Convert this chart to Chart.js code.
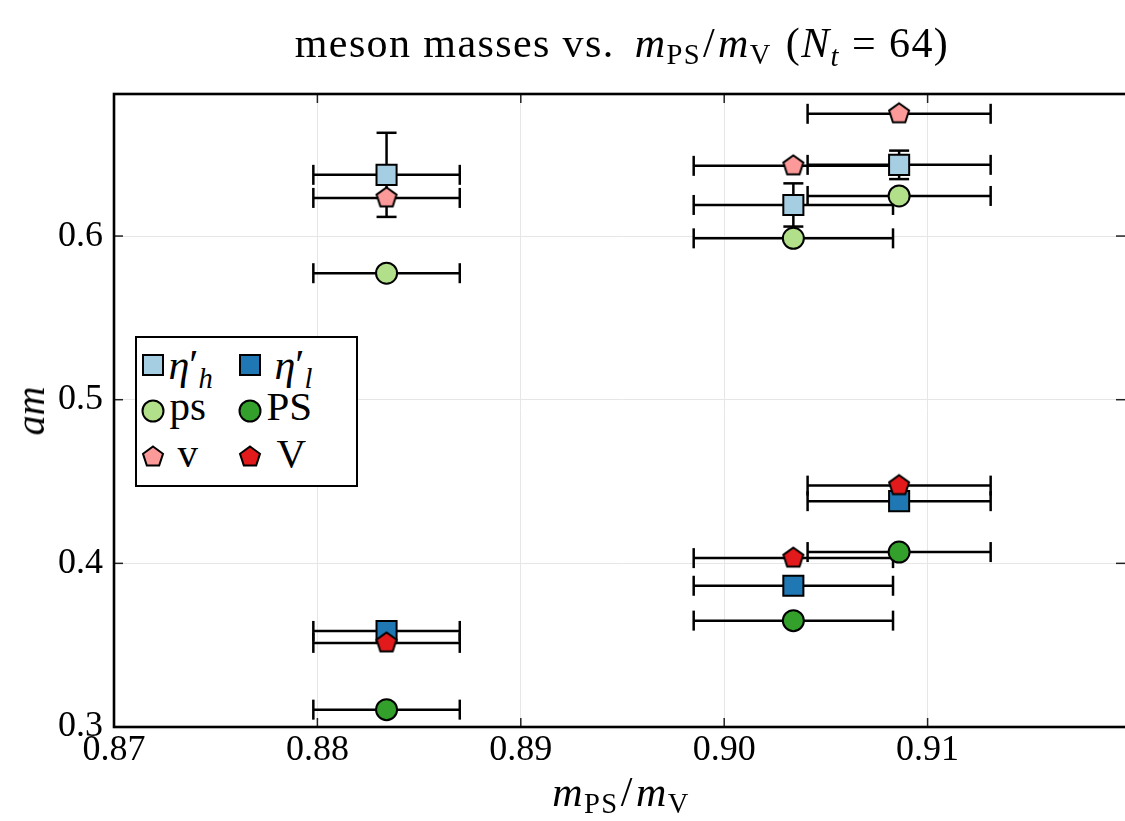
<!DOCTYPE html>
<html>
<head>
<meta charset="utf-8">
<script src="https://cdn.jsdelivr.net/npm/chart.js@4.4.0/dist/chart.umd.min.js"></script>
<style>
html,body{margin:0;padding:0;background:#fff;overflow:hidden;width:1125px;height:821px;}
#wrap{position:relative;width:1125px;height:821px;overflow:hidden;background:#fff;}
#cw{position:absolute;left:0;top:0;width:1140px;height:821px;}
.t{position:absolute;font-family:'Liberation Serif','Times New Roman',serif;color:#000;white-space:nowrap;}
.t i{font-style:italic;}
.s{font-size:0.68em;vertical-align:-0.25em;font-style:normal;}
.si{font-size:0.68em;vertical-align:-0.3em;font-style:italic;}
#legend{position:absolute;left:135px;top:336px;width:223px;height:151px;box-sizing:border-box;border:2.5px solid #000;background:#fff;}
.mk{position:absolute;}
</style>
</head>
<body>
<div id="wrap">
<div id="cw"><canvas id="c"></canvas></div>
<div id="legend"></div>
</div>
<script>
// ---- data ----
const xTicks = [0.87, 0.88, 0.89, 0.90, 0.91];
const yTicks = [0.3, 0.4, 0.5, 0.6];
const xMin = 0.87, xMax = 0.92, yMin = 0.3, yMax = 0.6868;

const groupX    = [0.8834, 0.9034, 0.9086];
const groupXErr = [0.0036, 0.0049, 0.0045];

const etaH    = [0.6374, 0.6190, 0.6435];
const etaHErr = [0.0257, 0.0132, 0.0087];
const etaL    = [0.3587, 0.3863, 0.4380];
const psM     = [0.5773, 0.5986, 0.6245];
const PSM     = [0.3106, 0.3650, 0.4069];
const vM      = [0.6233, 0.6429, 0.6747];
const VM      = [0.3514, 0.4032, 0.4475];

const colors = {
  etaH:'#a6cee3', etaL:'#1f78b4', ps:'#b2df8a', PS:'#33a02c', v:'#fb9a99', V:'#e31a1c'
};

// ---- helpers ----
function pts(ys){ return ys.map((y,i)=>({x:groupX[i], y:y})); }
function pentagon(fill){
  const c = document.createElement('canvas');
  c.width = 26; c.height = 26;
  const g = c.getContext('2d');
  const R = 10.5, cx = 13, cy = 13;
  g.beginPath();
  for(let k=0;k<5;k++){
    const a = -Math.PI/2 + k*2*Math.PI/5;
    const px = cx + R*Math.cos(a), py = cy + R*Math.sin(a);
    if(k===0) g.moveTo(px,py); else g.lineTo(px,py);
  }
  g.closePath();
  g.fillStyle = fill; g.fill();
  g.lineWidth = 2; g.strokeStyle = '#000'; g.lineJoin='miter'; g.stroke();
  return c;
}

const FONT = "'Liberation Serif','Times New Roman',serif";

const datasets = [
  {label:'V', data:pts(VM), xErr:groupXErr, pointStyle:pentagon(colors.V), pointRadius:10.5},
  {label:'v', data:pts(vM), xErr:groupXErr, pointStyle:pentagon(colors.v), pointRadius:10.5},
  {label:'PS', data:pts(PSM), xErr:groupXErr, pointStyle:'circle', pointRadius:10.5, backgroundColor:colors.PS},
  {label:'ps', data:pts(psM), xErr:groupXErr, pointStyle:'circle', pointRadius:10.5, backgroundColor:colors.ps},
  {label:"η'_l", data:pts(etaL), xErr:groupXErr, pointStyle:'rect', pointRadius:14.2, backgroundColor:colors.etaL},
  {label:"η'_h", data:pts(etaH), xErr:groupXErr, yErr:etaHErr, pointStyle:'rect', pointRadius:14.2, backgroundColor:colors.etaH},
].map(d=>Object.assign({borderColor:'#000', borderWidth:2, pointHoverRadius:d.pointRadius, showLine:false}, d));

const errPlugin = {
  id:'errbars',
  beforeDatasetsDraw(chart){
    const {ctx, chartArea:a, scales:{x, y}} = chart;
    const line = (x1,y1,x2,y2)=>{ctx.beginPath();ctx.moveTo(x1,y1);ctx.lineTo(x2,y2);ctx.stroke();};
    ctx.save();
    ctx.strokeStyle = '#222'; ctx.lineWidth = 1.5;
    xTicks.forEach(v=>{const p=x.getPixelForValue(v); line(p,a.bottom,p,a.bottom-9); line(p,a.top,p,a.top+9);});
    yTicks.forEach(v=>{const p=y.getPixelForValue(v); line(a.left,p,a.left+9,p); line(1125,p,1125-9,p);});
    ctx.beginPath(); ctx.rect(a.left, a.top, a.right-a.left, a.bottom-a.top); ctx.clip();
    ctx.strokeStyle = '#000'; ctx.lineWidth = 2.5; ctx.lineCap='butt';
    const cap = 10;
    chart.data.datasets.forEach((ds)=>{
      ds.data.forEach((p,j)=>{
        const cx = x.getPixelForValue(p.x), cy = y.getPixelForValue(p.y);
        const xe = ds.xErr ? ds.xErr[j] : 0, ye = ds.yErr ? ds.yErr[j] : 0;
        if(xe){
          const l = x.getPixelForValue(p.x - xe), r = x.getPixelForValue(p.x + xe);
          line(l,cy,r,cy); line(l,cy-cap,l,cy+cap); line(r,cy-cap,r,cy+cap);
        }
        if(ye){
          const t = y.getPixelForValue(p.y + ye), b = y.getPixelForValue(p.y - ye);
          line(cx,t,cx,b); line(cx-cap,t,cx+cap,t); line(cx-cap,b,cx+cap,b);
        }
      });
    });
    ctx.restore();
  },
  afterDatasetsDraw(chart){
    const {ctx, chartArea:a} = chart;
    ctx.save();
    ctx.strokeStyle = '#000'; ctx.lineWidth = 2.6;
    ctx.strokeRect(a.left, a.top, a.right-a.left, a.bottom-a.top);
    ctx.restore();
  }
};

const chart = new Chart(document.getElementById('c'), {
  type:'scatter',
  data:{datasets},
  plugins:[errPlugin],
  options:{
    responsive:true, maintainAspectRatio:false, animation:false, devicePixelRatio:1,
    layout:{autoPadding:false, padding:{top:94, right:9, left:0, bottom:0}},
    plugins:{legend:{display:false}, title:{display:false}, tooltip:{enabled:false}},
    scales:{
      x:{
        type:'linear', min:xMin, max:xMax,
        afterBuildTicks:(ax)=>{ ax.ticks = xTicks.map(v=>({value:v})); },
        afterFit:(s)=>{ s.height = 94; s.paddingLeft = 0; s.paddingRight = 0; },
        ticks:{callback:(v)=>v.toFixed(2), font:{family:FONT, size:36}, color:'#000', padding:2, maxRotation:0, autoSkip:false},
        grid:{color:'#e6e6e6', lineWidth:1, drawTicks:false},
        border:{display:false}
      },
      y:{
        type:'linear', min:yMin, max:yMax,
        afterBuildTicks:(ax)=>{ ax.ticks = yTicks.map(v=>({value:v})); },
        afterFit:(s)=>{ s.width = 114; s.paddingTop = 0; s.paddingBottom = 0; },
        ticks:{callback:(v)=>v.toFixed(1), font:{family:FONT, size:36}, color:'#000', padding:11, autoSkip:false},
        grid:{color:'#e6e6e6', lineWidth:1, drawTicks:false},
        border:{display:false}
      }
    }
  }
});

// ---- text overlays ----
const wrap = document.getElementById('wrap');
function place(parent, html, left, baseline, size, center, extra){
  const d = document.createElement('div');
  d.className = 't';
  d.style.fontSize = size+'px';
  d.style.lineHeight = size+'px';
  d.style.top = (baseline - size*0.8375)+'px';
  d.style.left = left+'px';
  if(center) d.style.transform = 'translateX(-50%)';
  if(extra) Object.assign(d.style, extra);
  d.innerHTML = html;
  parent.appendChild(d);
  return d;
}
place(wrap, "meson masses vs.<span style='margin-left:20px'></span><i>m</i><span class='s'>PS</span><span style='margin:0 2px'>/</span><i>m</i><span class='s'>V</span><span style='margin-left:14px'>(</span><i>N</i><span class='si'>t</span><span style='margin:0 12px'>=</span>64)", 622, 57, 42, true, {letterSpacing:'1.4px'});
place(wrap, "<i>m</i><span class='s'>PS</span><span style='margin:0 2px'>/</span><i>m</i><span class='s'>V</span>", 621, 806, 42, true, {letterSpacing:'1.5px'});
const yt = document.createElement('div');
yt.className = 't';
yt.style.fontSize='40px'; yt.style.lineHeight='40px';
yt.innerHTML = '<i>am</i>';
yt.style.left = '31px'; yt.style.top = '411px';
yt.style.transform = 'translate(-50%,-50%) rotate(-90deg)';
wrap.appendChild(yt);

// ---- legend ----
const lg = document.getElementById('legend');
const L0 = 135+2.5, T0 = 336+2.5;
function marker(kind, fill, cx, cy){
  const s = 26;
  let inner = '';
  if(kind==='rect') inner = `<rect x="3" y="3" width="20" height="20" fill="${fill}" stroke="#000" stroke-width="2"/>`;
  else if(kind==='circle') inner = `<circle cx="13" cy="13" r="10.5" fill="${fill}" stroke="#000" stroke-width="2"/>`;
  else {
    const R=10.5; let p=[];
    for(let k=0;k<5;k++){const a=-Math.PI/2+k*2*Math.PI/5; p.push((13+R*Math.cos(a)).toFixed(2)+','+(13+R*Math.sin(a)).toFixed(2));}
    inner = `<polygon points="${p.join(' ')}" fill="${fill}" stroke="#000" stroke-width="2"/>`;
  }
  const d = document.createElement('div');
  d.className='mk';
  d.style.left = (cx - L0 - s/2)+'px'; d.style.top = (cy - T0 - s/2)+'px';
  d.innerHTML = `<svg width="${s}" height="${s}">${inner}</svg>`;
  lg.appendChild(d);
}
marker('rect', colors.etaH, 153.5, 365);
marker('rect', colors.etaL, 250, 365);
marker('circle', colors.ps, 153.5, 411);
marker('circle', colors.PS, 250, 411);
marker('pent', colors.v, 153, 457);
marker('pent', colors.V, 250, 457);
place(lg, "<i>η</i>′<span class='si'>h</span>", 169-L0, 380-T0, 42);
place(lg, "<i>η</i>′<span class='si'>l</span>", 275-L0, 380-T0, 42);
place(lg, "ps", 170-L0, 421-T0, 41);
place(lg, "PS", 267-L0, 421-T0, 41);
place(lg, "v", 178-L0, 468-T0, 41);
place(lg, "V", 277-L0, 468-T0, 41);
</script>
</body>
</html>
